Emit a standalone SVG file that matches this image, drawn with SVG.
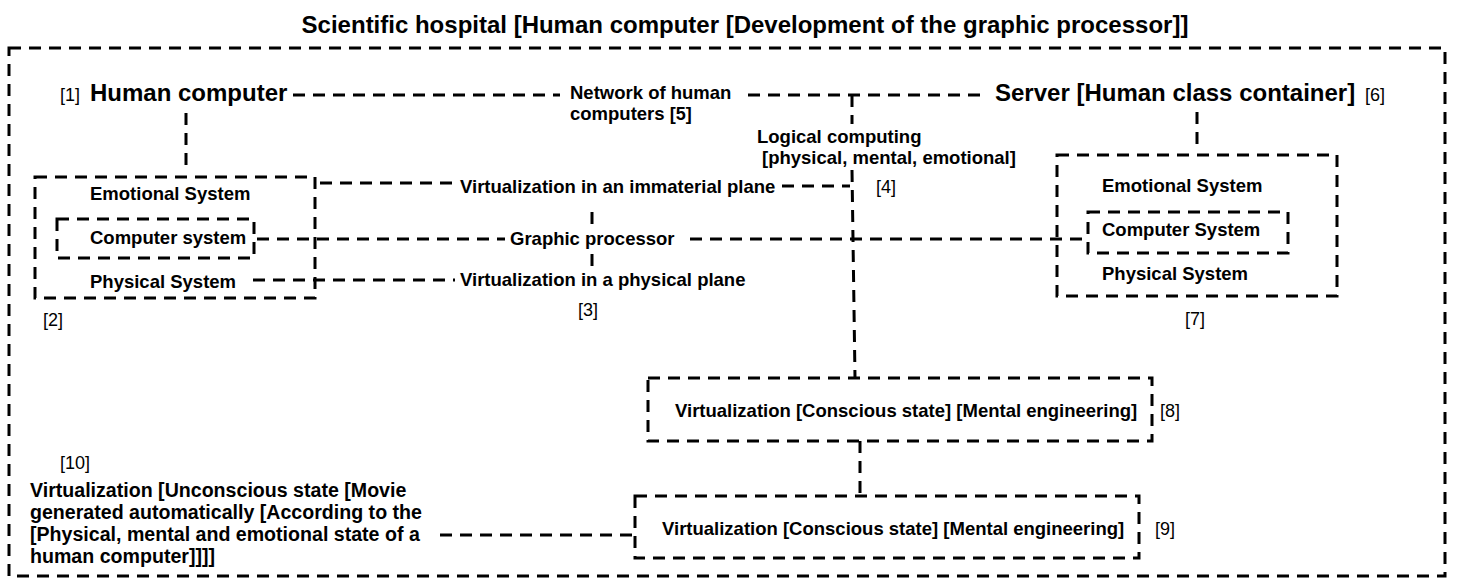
<svg xmlns="http://www.w3.org/2000/svg" width="1457" height="578" viewBox="0 0 1457 578">
<style>
.d{fill:none;stroke:#000;stroke-width:3;stroke-dasharray:12 8}
.b{font-family:"Liberation Sans",Arial,sans-serif;font-weight:bold;font-size:18.5px;fill:#000}
.big{font-family:"Liberation Sans",Arial,sans-serif;font-weight:bold;font-size:24px;fill:#000}
.r{font-family:"Liberation Sans",Arial,sans-serif;font-size:18px;fill:#000}
.n{font-family:"Liberation Sans",Arial,sans-serif;font-weight:bold;font-size:19.6px;fill:#000}
</style>
<rect width="1457" height="578" fill="#fff"/>
<text class="big" x="745" y="33" text-anchor="middle">Scientific hospital [Human computer [Development of the graphic processor]]</text>
<g id="hospital"><rect class="d" x="9" y="48" width="1436" height="528"/></g>

<g id="connectors">
<path class="d" d="M293 95H560"/>
<path class="d" d="M748 95H988"/>
<path class="d" d="M852 95V124"/>
<path class="d" d="M852 170L855 378"/>
<path class="d" d="M186 113V168"/>
<path class="d" d="M1197 112V146"/>
<path class="d" d="M320 183H455"/>
<path class="d" d="M782 186H850"/>
<path class="d" d="M257 239H505"/>
<path class="d" d="M690 239H1085"/>
<path class="d" d="M253 280H455"/>
<path class="d" d="M592 212V227"/>
<path class="d" d="M592 254V270"/>
<path class="d" d="M860 441V496"/>
<path class="d" d="M440 535H635"/>
</g>

<g id="n1"><text class="r" x="60" y="101">[1]</text><text class="big" x="90" y="101">Human computer</text></g>
<g id="n5"><text class="b" x="570" y="99">Network of human</text><text class="b" x="570" y="120">computers <tspan class="r">[5]</tspan></text></g>
<g id="n6"><text class="big" x="995" y="101">Server [Human class container]</text><text class="r" x="1365" y="101">[6]</text></g>
<g id="n4"><text class="b" x="757" y="143">Logical computing</text><text class="b" x="762" y="164">[physical, mental, emotional]</text><text class="r" x="876" y="193">[4]</text></g>

<g id="n2">
<rect class="d" x="35" y="177" width="280" height="121"/>
<rect class="d" x="57" y="219" width="197" height="39"/>
<text class="b" x="90" y="200">Emotional System</text>
<text class="b" x="90" y="244">Computer system</text>
<text class="b" x="90" y="288">Physical System</text>
<text class="r" x="43" y="326">[2]</text>
</g>

<g id="n3">
<text class="b" x="460" y="193">Virtualization in an immaterial plane</text>
<text class="b" x="510" y="245">Graphic processor</text>
<text class="b" x="460" y="286">Virtualization in a physical plane</text>
<text class="r" x="578" y="316">[3]</text>
</g>

<g id="n7">
<rect class="d" x="1057" y="155" width="280" height="141"/>
<rect class="d" x="1088" y="212" width="200" height="41"/>
<text class="b" x="1102" y="192">Emotional System</text>
<text class="b" x="1102" y="236">Computer System</text>
<text class="b" x="1102" y="280">Physical System</text>
<text class="r" x="1185" y="325">[7]</text>
</g>

<g id="n8">
<rect class="d" x="648" y="378" width="504" height="63"/>
<text class="b" x="675" y="417">Virtualization [Conscious state] [Mental engineering]</text>
<text class="r" x="1160" y="417">[8]</text>
</g>

<g id="n9">
<rect class="d" x="635" y="496" width="504" height="62"/>
<text class="b" x="662" y="535">Virtualization [Conscious state] [Mental engineering]</text>
<text class="r" x="1155" y="535">[9]</text>
</g>

<g id="n10">
<text class="r" x="60" y="469">[10]</text>
<text class="n" x="30" y="497">Virtualization [Unconscious state [Movie</text>
<text class="n" x="30" y="519">generated automatically [According to the</text>
<text class="n" x="30" y="541">[Physical, mental and emotional state of a</text>
<text class="n" x="30" y="563">human computer]]]]</text>
</g>
</svg>
